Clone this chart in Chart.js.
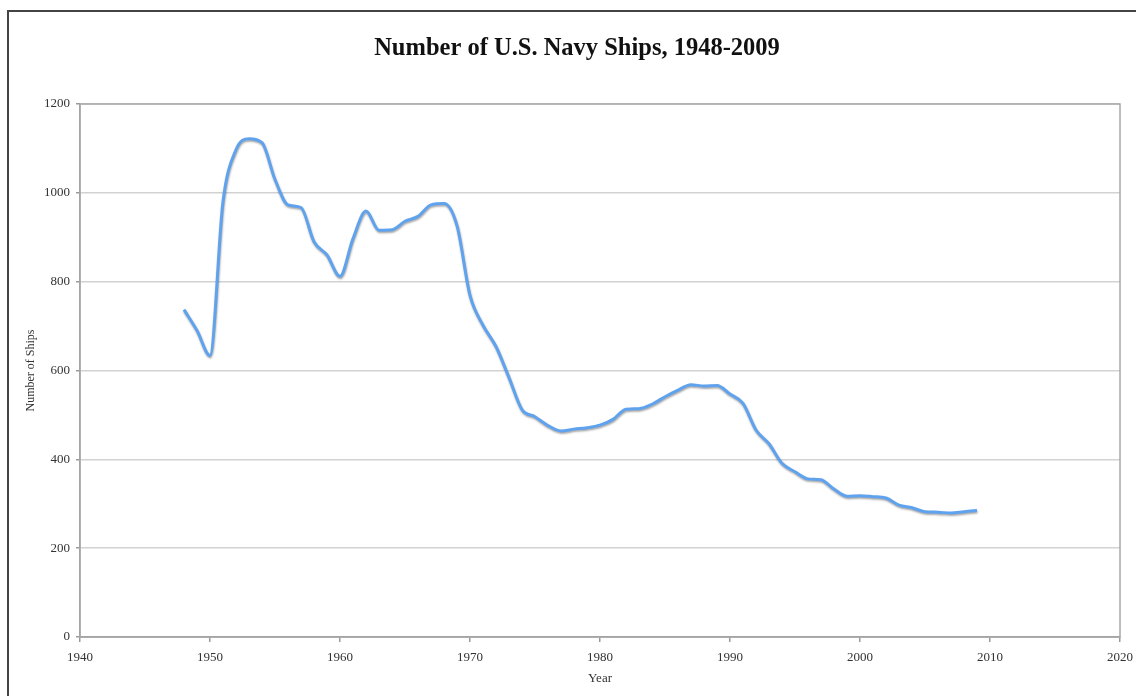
<!DOCTYPE html>
<html>
<head>
<meta charset="utf-8">
<script src="https://cdn.jsdelivr.net/npm/chart.js@4.4.1/dist/chart.umd.min.js"></script>
<style>
  html, body { margin: 0; padding: 0; background: #fff; }
  #wrap { width: 1136px; height: 696px; position: relative; }
</style>
</head>
<body>
<div id="wrap"><canvas id="c" width="1136" height="696"></canvas></div>
<script>
const years = [1948,1949,1950,1951,1952,1953,1954,1955,1956,1957,1958,1959,1960,1961,1962,1963,1964,1965,1966,1967,1968,1969,1970,1971,1972,1973,1974,1975,1976,1977,1978,1979,1980,1981,1982,1983,1984,1985,1986,1987,1988,1989,1990,1991,1992,1993,1994,1995,1996,1997,1998,1999,2000,2001,2002,2003,2004,2005,2006,2007,2008,2009];
const ships = [737,690,634,980,1097,1122,1113,1030,973,967,890,860,812,897,959,916,917,936,947,973,976,926,769,702,654,584,512,496,476,464,468,471,477,490,513,514,524,541,556,568,565,566,547,526,466,435,391,372,356,354,333,317,318,316,313,297,291,282,281,279,282,285];
const xTicks = [1940,1950,1960,1970,1980,1990,2000,2010,2020];
const yTicks = [0,200,400,600,800,1000,1200];
const titleText = 'Number of U.S. Navy Ships, 1948-2009';

const serif = '"Liberation Serif", "Times New Roman", serif';

const frame = {
  id: 'frame',
  beforeDraw(chart) {
    const ctx = chart.ctx;
    ctx.save();
    ctx.fillStyle = '#fff';
    ctx.fillRect(0, 0, chart.width, chart.height);
    ctx.strokeStyle = '#444';
    ctx.lineWidth = 2;
    ctx.strokeRect(8, 11, 1200, 800);
    ctx.fillStyle = '#111';
    ctx.font = 'bold 24.5px ' + serif;
    ctx.textAlign = 'center';
    ctx.textBaseline = 'middle';
    ctx.fillText(titleText, 577, 49);
    ctx.restore();
  },
  afterDraw(chart) {
    const a = chart.chartArea, ctx = chart.ctx;
    ctx.save();
    ctx.strokeStyle = '#a8a8a8';
    ctx.lineWidth = 1.5;
    ctx.strokeRect(a.left, a.top, a.right - a.left, a.bottom - a.top);
    ctx.restore();
  }
};

const shadow = {
  id: 'shadow',
  beforeDatasetDraw(chart) {
    const ctx = chart.ctx;
    ctx.save();
    ctx.shadowColor = 'rgba(0,0,0,0.35)';
    ctx.shadowBlur = 2;
    ctx.shadowOffsetX = 0.5;
    ctx.shadowOffsetY = 1.5;
  },
  afterDatasetDraw(chart) {
    chart.ctx.restore();
  }
};

new Chart(document.getElementById('c'), {
  type: 'line',
  data: {
    datasets: [{
      label: 'Ships',
      data: years.map((y, i) => ({x: y, y: ships[i]})),
      borderColor: '#5fa2ee',
      borderWidth: 3,
      pointRadius: 0,
      tension: 0.4,
      cubicInterpolationMode: 'monotone',
      fill: false
    }]
  },
  options: {
    responsive: false,
    animation: false,
    layout: { padding: { top: 104, right: 16, bottom: 0, left: 0 } },
    plugins: {
      legend: { display: false },
      tooltip: { enabled: false },
      title: { display: false }
    },
    scales: {
      x: {
        type: 'linear',
        min: 1940, max: 2020,
        afterBuildTicks(scale) { scale.ticks = xTicks.map(v => ({value: v})); },
        afterFit(scale) { scale.height = 59; scale.paddingLeft = 0; scale.paddingRight = 0; },
        ticks: {
          callback: v => String(v),
          color: '#333',
          font: { family: serif, size: 13 },
          padding: 8,
          maxRotation: 0
        },
        grid: { drawOnChartArea: false, drawTicks: true, tickLength: 5, color: '#999', lineWidth: 1.5 },
        border: { display: true, color: '#999', width: 1.5 },
        title: {
          display: true, text: 'Year', color: '#333',
          font: { family: serif, size: 13 },
          padding: { top: 0, bottom: 10 }
        }
      },
      y: {
        min: 0, max: 1200,
        afterBuildTicks(scale) { scale.ticks = yTicks.map(v => ({value: v})); },
        afterFit(scale) { scale.width = 80; scale.paddingTop = 0; scale.paddingBottom = 0; },
        ticks: {
          callback: v => String(v),
          color: '#333',
          font: { family: serif, size: 13 },
          padding: 6
        },
        grid: { color: '#d2d2d2', lineWidth: 1.5, tickColor: '#999', tickLength: 4 },
        border: { display: true, color: '#999', width: 1.5 },
        title: {
          display: true, text: 'Number of Ships', color: '#333',
          font: { family: serif, size: 12 },
          padding: { top: 24, bottom: 0 }
        }
      }
    }
  },
  plugins: [frame, shadow]
});
</script>
</body>
</html>
